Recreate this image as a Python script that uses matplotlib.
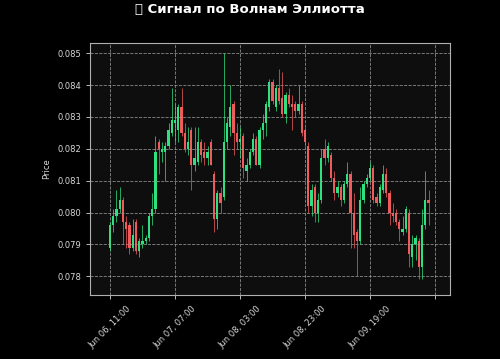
import matplotlib
matplotlib.use("Agg")
import matplotlib.pyplot as plt
import pandas as pd

# hourly candles
start = "2025-06-06 11:00"
opens = [0.0789, 0.0796, 0.0799, 0.0801, 0.0804, 0.0797, 0.0796, 0.0789, 0.0797, 0.0788,
         0.0790, 0.0791, 0.0792, 0.0799, 0.0801, 0.0822, 0.0819, 0.0819, 0.0821, 0.0825,
         0.0828, 0.0826, 0.0833, 0.0825, 0.0820, 0.0826, 0.0815, 0.0816, 0.0822, 0.0819,
         0.0817, 0.0822, 0.0812, 0.0798, 0.0806, 0.0805, 0.0822, 0.0827, 0.0834, 0.0825,
         0.0822, 0.0824, 0.0813, 0.0815, 0.0819, 0.0823, 0.0815, 0.0826, 0.0828, 0.0833,
         0.0841, 0.0833, 0.0839, 0.0836, 0.0831, 0.0837, 0.0834, 0.0834, 0.0832, 0.0834,
         0.0826, 0.0821, 0.0802, 0.0808, 0.0800, 0.0804, 0.0820, 0.0817, 0.0818, 0.0811,
         0.0806, 0.0808, 0.0804, 0.0809, 0.0812, 0.0800, 0.0794, 0.0791, 0.0804, 0.0809,
         0.0811, 0.0814, 0.0805, 0.0803, 0.0807, 0.0812, 0.0806, 0.0800, 0.0800, 0.0797,
         0.0794, 0.0795, 0.0800, 0.0786, 0.0790, 0.0791, 0.0783, 0.0796, 0.0804]
highs = [0.0797, 0.0801, 0.0807, 0.0808, 0.0805, 0.0799, 0.0797, 0.0798, 0.0798, 0.0792,
         0.0796, 0.0793, 0.0800, 0.0806, 0.0824, 0.0823, 0.0822, 0.0822, 0.0828, 0.0839,
         0.0834, 0.0834, 0.0839, 0.0828, 0.0827, 0.0827, 0.0827, 0.0827, 0.0823, 0.0822,
         0.0821, 0.0823, 0.0813, 0.0807, 0.0808, 0.0850, 0.0830, 0.0840, 0.0835, 0.0828,
         0.0827, 0.0825, 0.0817, 0.0820, 0.0825, 0.0824, 0.0827, 0.0831, 0.0835, 0.0842,
         0.0842, 0.0840, 0.0845, 0.0844, 0.0838, 0.0839, 0.0837, 0.0835, 0.0840, 0.0835,
         0.0827, 0.0822, 0.0809, 0.0809, 0.0806, 0.0820, 0.0823, 0.0822, 0.0819, 0.0813,
         0.0810, 0.0809, 0.0810, 0.0816, 0.0813, 0.0806, 0.0795, 0.0808, 0.0810, 0.0812,
         0.0816, 0.0815, 0.0806, 0.0809, 0.0815, 0.0814, 0.0807, 0.0803, 0.0801, 0.0798,
         0.0799, 0.0802, 0.0801, 0.0793, 0.0793, 0.0792, 0.0801, 0.0813, 0.0807]
lows = [0.0788, 0.0794, 0.0797, 0.0800, 0.0790, 0.0789, 0.0787, 0.0788, 0.0787, 0.0786,
        0.0789, 0.0790, 0.0791, 0.0796, 0.0800, 0.0812, 0.0816, 0.0810, 0.0820, 0.0824,
        0.0822, 0.0822, 0.0824, 0.0819, 0.0818, 0.0807, 0.0813, 0.0815, 0.0816, 0.0815,
        0.0815, 0.0815, 0.0794, 0.0795, 0.0800, 0.0804, 0.0820, 0.0824, 0.0818, 0.0820,
        0.0817, 0.0811, 0.0810, 0.0814, 0.0818, 0.0815, 0.0814, 0.0823, 0.0824, 0.0832,
        0.0834, 0.0832, 0.0834, 0.0830, 0.0828, 0.0833, 0.0826, 0.0830, 0.0831, 0.0824,
        0.0821, 0.0800, 0.0799, 0.0797, 0.0797, 0.0803, 0.0815, 0.0816, 0.0810, 0.0804,
        0.0805, 0.0802, 0.0803, 0.0808, 0.0789, 0.0789, 0.0780, 0.0790, 0.0803, 0.0808,
        0.0810, 0.0803, 0.0802, 0.0802, 0.0806, 0.0805, 0.0796, 0.0797, 0.0796, 0.0791,
        0.0793, 0.0794, 0.0783, 0.0783, 0.0785, 0.0779, 0.0779, 0.0795, 0.0796]
closes = [0.0796, 0.0799, 0.0801, 0.0804, 0.0797, 0.0795, 0.0789, 0.0793, 0.0788, 0.0791,
          0.0791, 0.0792, 0.0799, 0.0801, 0.0819, 0.0820, 0.0820, 0.0821, 0.0826, 0.0829,
          0.0829, 0.0833, 0.0825, 0.0820, 0.0822, 0.0815, 0.0817, 0.0822, 0.0818, 0.0817,
          0.0819, 0.0815, 0.0798, 0.0806, 0.0803, 0.0822, 0.0828, 0.0833, 0.0825, 0.0822,
          0.0823, 0.0814, 0.0815, 0.0819, 0.0823, 0.0815, 0.0826, 0.0828, 0.0834, 0.0841,
          0.0835, 0.0839, 0.0835, 0.0831, 0.0837, 0.0834, 0.0833, 0.0832, 0.0834, 0.0825,
          0.0822, 0.0802, 0.0807, 0.0800, 0.0804, 0.0817, 0.0817, 0.0821, 0.0811, 0.0806,
          0.0808, 0.0804, 0.0809, 0.0812, 0.0800, 0.0793, 0.0791, 0.0804, 0.0809, 0.0811,
          0.0814, 0.0804, 0.0803, 0.0808, 0.0812, 0.0806, 0.0800, 0.0799, 0.0797, 0.0795,
          0.0795, 0.0801, 0.0787, 0.0790, 0.0792, 0.0783, 0.0796, 0.0804, 0.0803]

title = "\U0001F30A Сигнал по Волнам Эллиотта"
up_color = "#2ee07f"
down_color = "#f05a5a"

dates = pd.date_range(start, periods=len(closes) + 1, freq="h")

fig = plt.figure(figsize=(5, 3.59), dpi=100, facecolor="black")
ax = fig.add_axes([0.18, 0.178, 0.72, 0.702])
ax.set_facecolor("#0e0e0e")

for i in range(len(closes)):
    o, h, l, c = opens[i], highs[i], lows[i], closes[i]
    col = up_color if c >= o else down_color
    ax.vlines(i, l, h, color=col, linewidth=0.7, alpha=0.75)
    ax.bar(i, abs(c - o) if c != o else 0.00002, bottom=min(o, c), width=0.7,
           color=col, edgecolor="none")

ax.set_xlim(-6.15, 104.6)
ax.set_ylim(0.07741, 0.08532)

ticks = list(range(0, len(closes) + 2, 20))
labels = [dates[t].strftime("%b %d, %H:%M") if t < len(closes) else "" for t in ticks]
ax.set_xticks(ticks)
ax.set_xticklabels(labels, rotation=45)
ax.set_yticks([0.078, 0.079, 0.080, 0.081, 0.082, 0.083, 0.084, 0.085])

ax.grid(True, color="#a0a0a0", linestyle="--", linewidth=0.6, alpha=0.85)
ax.tick_params(colors="#d8d8d8", labelsize=6, length=3, width=0.6)
for s in ax.spines.values():
    s.set_color("#b0b0b0")
    s.set_linewidth(0.8)
ax.set_ylabel("Price", color="#d8d8d8", fontsize=6)

fig.suptitle(title, color="white", fontsize=9.5, fontweight="bold", y=0.993)

fig.savefig("out.png", dpi=100, facecolor="black")
